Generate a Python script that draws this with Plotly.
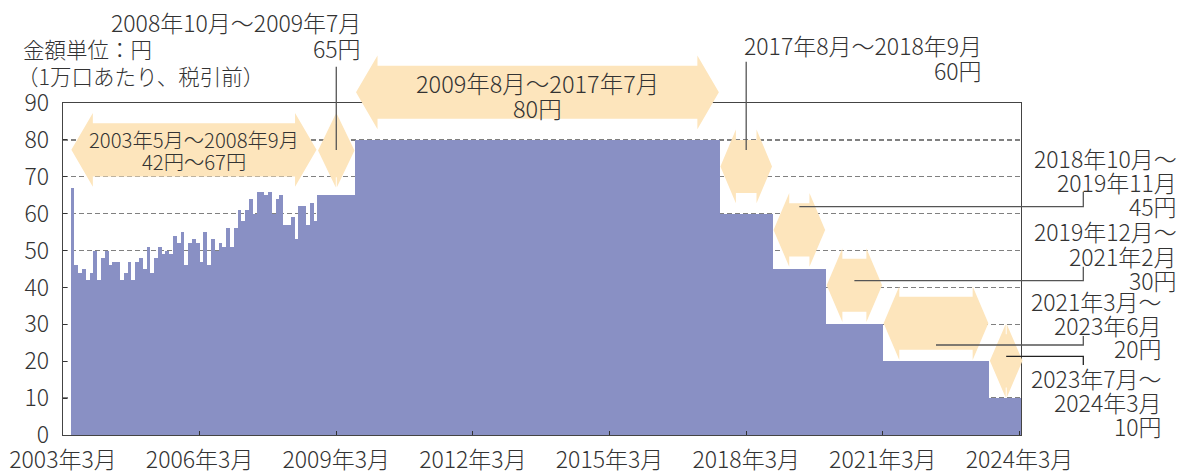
import plotly.graph_objects as go

# ---------------- data ----------------
start_month = "2003-03"  # axis origin (index 0)
tick_labels = ["2003年3月", "2006年3月", "2009年3月", "2012年3月",
               "2015年3月", "2018年3月", "2021年3月", "2024年3月"]
tick_months = ["2003-03", "2006-03", "2009-03", "2012-03",
               "2015-03", "2018-03", "2021-03", "2024-03"]

# monthly values 2003-05 .. 2008-09 (variable period)
var_start = "2003-05"
var_values = [
    67, 46, 44, 45, 42, 44, 50, 42,                      # 2003-05..12
    48, 50, 46, 47, 47, 42, 44, 47, 42, 47, 48, 45,      # 2004
    51, 44, 48, 51, 49, 50, 49, 54, 52, 55, 46, 52,      # 2005
    53, 52, 47, 55, 46, 53, 50, 52, 51, 56, 51, 56,      # 2006
    61, 58, 61, 64, 60, 66, 66, 65, 66, 60, 64, 65,      # 2007
    57, 57, 59, 53, 62, 62, 57, 63, 58,                  # 2008-01..09
]
# fixed periods: (start, end inclusive, value)
seg_start = ["2008-10", "2009-08", "2017-08", "2018-10", "2019-12", "2021-03", "2023-07"]
seg_end   = ["2009-07", "2017-07", "2018-09", "2019-11", "2021-02", "2023-06", "2024-03"]
seg_value = [65, 80, 60, 45, 30, 20, 10]

# ---------------- helpers ----------------
def midx(s):
    y, m = map(int, s.split("-"))
    y0, m0 = map(int, start_month.split("-"))
    return (y - y0) * 12 + (m - m0)

xs, ys = [], []
i0 = midx(var_start)
for k, v in enumerate(var_values):
    xs.append(i0 + k + 0.5)
    ys.append(v)
for s, e, v in zip(seg_start, seg_end, seg_value):
    for i in range(midx(s), midx(e) + 1):
        xs.append(i + 0.5)
        ys.append(v)

XMAX = 252.4
YMAX = 90
W, H = 1181, 471
ML, MR, MT, MB = 63, 160, 103, 36
PW, PH = W - ML - MR, H - MT - MB

def xp(i):          # month index -> paper
    return i / XMAX
def yp(v):          # value -> paper
    return v / YMAX
def pxx(px):        # pixel -> paper
    return (px - ML) / PW
def pxy(py):
    return (H - MB - py) / PH

BAR = "rgb(137,144,196)"
ARW = "rgb(253,229,188)"
TXT = "#333333"
FONT = "Noto Sans CJK JP"
FS = 23

fig = go.Figure()
fig.add_trace(go.Bar(x=xs, y=ys, width=1, marker=dict(color=BAR, line=dict(width=0)),
                     hoverinfo="skip"))

shapes = []
annotations = []

# ---------------- double arrows ----------------
arrow_start = [var_start] + seg_start
arrow_end_idx = [midx(seg_start[0])] + [midx(e) + 1 for e in seg_end]
arrow_center = [77.3, 77.1, 92.9, 72.8, 55.6, 40.6, 30.3, 20.1]
arrow_head = [21.5, None, 21.5, 15.5, 15.7, 15.7, 15.7, None]   # px, None = diamond
HH, BH = 10.0, 7.2   # half heights in value units

for s, eidx, c, hl in zip(arrow_start, arrow_end_idx, arrow_center, arrow_head):
    a = xp(midx(s) + 0.2)
    b = xp(eidx - 0.2)
    if hl is None:
        h = (b - a) / 2 - 0.0005
    else:
        h = hl / PW
    yc = yp(c)
    ht, hb = yp(c + HH), yp(c - HH)
    bt, bb = yp(c + BH), yp(c - BH)
    pts = [(a, yc), (a + h, ht), (a + h, bt), (b - h, bt), (b - h, ht), (b, yc),
           (b - h, hb), (b - h, bb), (a + h, bb), (a + h, hb)]
    path = "M " + " L ".join(f"{x:.5f},{y:.5f}" for x, y in pts) + " Z"
    shapes.append(dict(type="path", path=path, xref="paper", yref="paper",
                       fillcolor=ARW, line=dict(width=0), layer="above"))

def ann(text, x, y, xanchor="center", size=FS):
    annotations.append(dict(text=text, x=x, y=y, xref="paper", yref="paper",
                            xanchor=xanchor, yanchor="middle", showarrow=False,
                            borderpad=0,
                            font=dict(family=FONT, size=size, color=TXT, weight=300)))

# text inside arrows
cx0 = xp((midx(var_start) + midx(seg_start[0])) / 2)
ann("2003年5月～2008年9月", cx0, pxy(138.5), size=20.3)
ann("42円～67円", cx0, pxy(160.5), size=20.3)
cx2 = xp((midx(seg_start[1]) + midx(seg_end[1]) + 1) / 2)
ann("2009年8月～2017年7月", cx2, pxy(83.3), size=23.5)
ann("80円", cx2, pxy(107.7), size=23.5)

# ---------------- leader lines ----------------
def line_path(pts, color="#555555", width=1.3):
    path = "M " + " L ".join(f"{x:.5f},{y:.5f}" for x, y in pts)
    shapes.append(dict(type="path", path=path, xref="paper", yref="paper",
                       line=dict(color=color, width=width), layer="above"))

def seg_center(k):
    return xp((midx(seg_start[k]) + midx(seg_end[k]) + 1) / 2)

# top labels
line_path([(seg_center(0), pxy(66.7)), (seg_center(0), pxy(150))])
line_path([(seg_center(2), pxy(61.7)), (seg_center(2), pxy(150))])
ann("2008年10月～2009年7月", pxx(362), pxy(22), "right")
ann("65円", pxx(362), pxy(48.5), "right")
ann("2017年8月～2018年9月", pxx(983), pxy(45), "right")
ann("60円", pxx(983), pxy(69.5), "right")

# right labels
RX = pxx(1083.3)
right_lines = [
    (3, 206.7, 191.7, "#555555"),
    (4, 280.7, 266.7, "#555555"),
    (5, 345.0, 336.0, "#555555"),
    (6, 356.3, 365.0, "#222222"),
]
for k, yl, yend, col in right_lines:
    line_path([(seg_center(k), pxy(yl)), (RX, pxy(yl)), (RX, pxy(yend))], color=col)

right_text = [
    (1177.5, [("2018年10月～", 157.5), ("2019年11月", 182), ("45円", 206)]),
    (1177.5, [("2019年12月～", 231), ("2021年2月", 255.5), ("30円", 279.5)]),
    (1162.5, [("2021年3月～", 301), ("2023年6月", 324.5), ("20円", 348)]),
    (1162.5, [("2023年7月～", 377.5), ("2024年3月", 402), ("10円", 426)]),
]
for rx, lines in right_text:
    for t, y in lines:
        ann(t, pxx(rx), pxy(y), "right")

# unit label
ann("金額単位：円", pxx(22), pxy(48.5), "left", size=21.5)
ann("（1万口あたり、税引前）", pxx(16), pxy(75), "left", size=21.5)

fig.update_layout(
    template="none",
    width=W, height=H,
    margin=dict(l=ML, r=MR, t=MT, b=MB, pad=0, autoexpand=False),
    paper_bgcolor="white", plot_bgcolor="white",
    bargap=0, showlegend=False,
    font=dict(family=FONT, size=FS, color=TXT, weight=300),
    shapes=shapes, annotations=annotations,
    xaxis=dict(range=[0, XMAX], tickvals=[midx(m) for m in tick_months],
               ticktext=tick_labels, ticks="inside", ticklen=4, tickcolor="#333",
               showline=True, linecolor="#444", linewidth=1.3, mirror=True,
               showgrid=False, zeroline=False, ticklabelstandoff=4, automargin=False,
               tickfont=dict(size=FS, color=TXT)),
    yaxis=dict(range=[0, YMAX], tickvals=list(range(0, 91, 10)),
               ticks="inside", ticklen=4, tickcolor="#333",
               showline=True, linecolor="#444", linewidth=1.3, mirror=True,
               showgrid=True, gridcolor="#808080", gridwidth=1.3, griddash="5px,3px",
               zeroline=False, ticklabelstandoff=8, automargin=False,
               tickfont=dict(size=FS, color=TXT)),
)

fig.write_html("out.html", config={"displayModeBar": False, "staticPlot": True},
               post_script="document.body.style.margin='0';document.body.style.overflow='hidden';")
